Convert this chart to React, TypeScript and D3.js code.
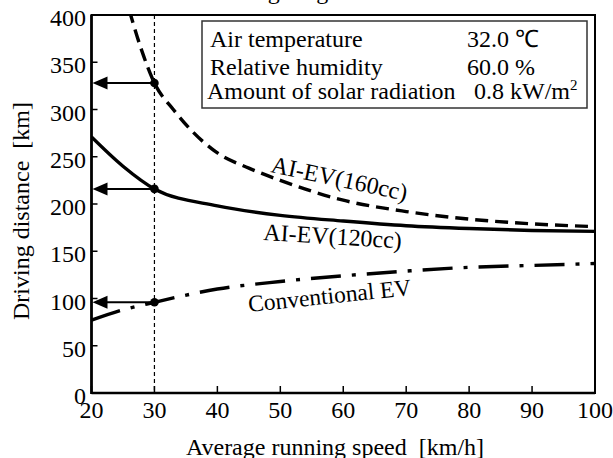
import React from "react";
import * as d3 from "d3";

const speeds = [20, 25, 30, 40, 50, 60, 70, 80, 90, 100];
const ev120 = [271, 240, 216, 198, 188, 182, 177, 174, 172, 171];
const conventional = [77, 88, 96, 110, 118, 124, 129, 133, 135, 137];
const speeds160 = [26, 28, 30, 33, 36, 40, 45, 50, 60, 70, 80, 90, 100];
const ev160 = [405, 362, 328, 300, 277, 254, 238, 225, 204, 192, 184, 179, 176];

const markSpeed = 30;
const markValues = [328, 216, 96];

const xTicks = [20, 30, 40, 50, 60, 70, 80, 90, 100];
const yTicks = [0, 50, 100, 150, 200, 250, 300, 350, 400];

const condLabels = ["Air temperature", "Relative humidity", "Amount of solar radiation"];
const condValues = ["32.0 \u2103", "60.0 %", "0.8 kW/m"];

const FONT = "'Liberation Serif', 'Times New Roman', serif";

export default function App() {
  const W = 613, H = 458;
  const x = d3.scaleLinear().domain([20, 100]).range([91.5, 595]);
  const y = d3.scaleLinear().domain([0, 400]).range([393, 15]);
  const line = d3
    .line<[number, number]>()
    .x((d) => x(d[0]))
    .y((d) => y(d[1]))
    .curve(d3.curveMonotoneX);

  const p120 = line(speeds.map((s, i) => [s, ev120[i]]));
  const pConv = line(speeds.map((s, i) => [s, conventional[i]]));
  const p160 = line(speeds160.map((s, i) => [s, ev160[i]]));

  const [x0, x1] = x.range();
  const [yb, yt] = y.range();

  return (
    <div style={{ position: "absolute", left: 0, top: 0, width: W, height: H, background: "#fff" }}>
      <svg width={W} height={H} style={{ display: "block" }} fontFamily={FONT}>
        <defs>
          <clipPath id="plotclip">
            <rect x={x0} y={yt} width={x1 - x0} height={yb - yt} />
          </clipPath>
        </defs>
        <rect x={0} y={0} width={W} height={H} fill="#fff" />

        {/* cut-off title */}
        <text x={205} y={-1} fontSize={24} fill="#000">Driving range</text>

        {/* vertical reference line */}
        <line x1={x(markSpeed)} x2={x(markSpeed)} y1={yt} y2={yb} stroke="#000" strokeWidth={1.2} strokeDasharray="4 3" />

        {/* curves */}
        <g clipPath="url(#plotclip)" fill="none" stroke="#000" strokeWidth={3.4}>
          <path d={p160 || ""} strokeDasharray="13 7" />
          <path d={p120 || ""} />
          <path d={pConv || ""} strokeDasharray="30 11 4 11" />
        </g>

        {/* arrows and dots */}
        {markValues.map((v, i) => (
          <g key={i}>
            <line x1={x(markSpeed)} x2={x0 + 12} y1={y(v)} y2={y(v)} stroke="#000" strokeWidth={2} />
            <polygon
              points={`${x0 + 1},${y(v)} ${x0 + 16},${y(v) - 6.5} ${x0 + 16},${y(v) + 6.5}`}
              fill="#000"
            />
            <circle cx={x(markSpeed)} cy={y(v)} r={4.3} fill="#000" />
          </g>
        ))}

        {/* legend box */}
        <rect x={202} y={21} width={385} height={87} fill="#fff" stroke="#333" strokeWidth={1.5} />
        {condLabels.map((l, i) => (
          <text key={l} x={i === 2 ? 207 : 210} y={[47, 75, 99][i]} fontSize={24} fill="#000">{l}</text>
        ))}
        {condValues.map((v, i) => (
          <text key={v} x={i === 2 ? 474 : 467} y={[47, 75, 99][i]} fontSize={24} fill="#000">
            {v}
            {i === 2 ? <tspan dy={-9} fontSize={15}>2</tspan> : null}
          </text>
        ))}

        {/* curve labels */}
        <text transform="translate(270,172) rotate(12)" fontSize={24} fill="#000">AI-EV(160cc)</text>
        <text transform="translate(263,240) rotate(3.5)" fontSize={24} fill="#000">AI-EV(120cc)</text>
        <text transform="translate(249,312) rotate(-6)" fontSize={23.5} fill="#000">Conventional EV</text>

        {/* frame */}
        <rect x={x0} y={yt} width={x1 - x0} height={yb - yt} fill="none" stroke="#000" strokeWidth={2} />
        <line x1={x0} x2={x0} y1={yt} y2={yb + 1} stroke="#000" strokeWidth={2.6} />
        <line x1={x0} x2={x1} y1={yb} y2={yb} stroke="#000" strokeWidth={2.6} />

        {/* y ticks */}
        {yTicks.map((t) => (
          <g key={t}>
            <line x1={x0} x2={x0 + 6} y1={y(t)} y2={y(t)} stroke="#000" strokeWidth={1.5} />
            <text x={86} y={y(t) + 11} textAnchor="end" fontSize={24} fill="#000">{t}</text>
          </g>
        ))}
        {/* x ticks */}
        {xTicks.map((t) => (
          <g key={t}>
            <line x1={x(t)} x2={x(t)} y1={yb} y2={yb - 7} stroke="#000" strokeWidth={1.5} />
            <text x={x(t)} y={418} textAnchor="middle" fontSize={24} fill="#000">{t}</text>
          </g>
        ))}

        {/* axis titles */}
        <text x={335} y={455} textAnchor="middle" fontSize={24} fill="#000">
          Average running speed{"\u00a0\u00a0"}[km/h]
        </text>
        <text transform="translate(28.5,211) rotate(-90)" textAnchor="middle" fontSize={24} fill="#000">
          Driving distance{"\u00a0\u00a0"}[km]
        </text>
      </svg>
    </div>
  );
}
